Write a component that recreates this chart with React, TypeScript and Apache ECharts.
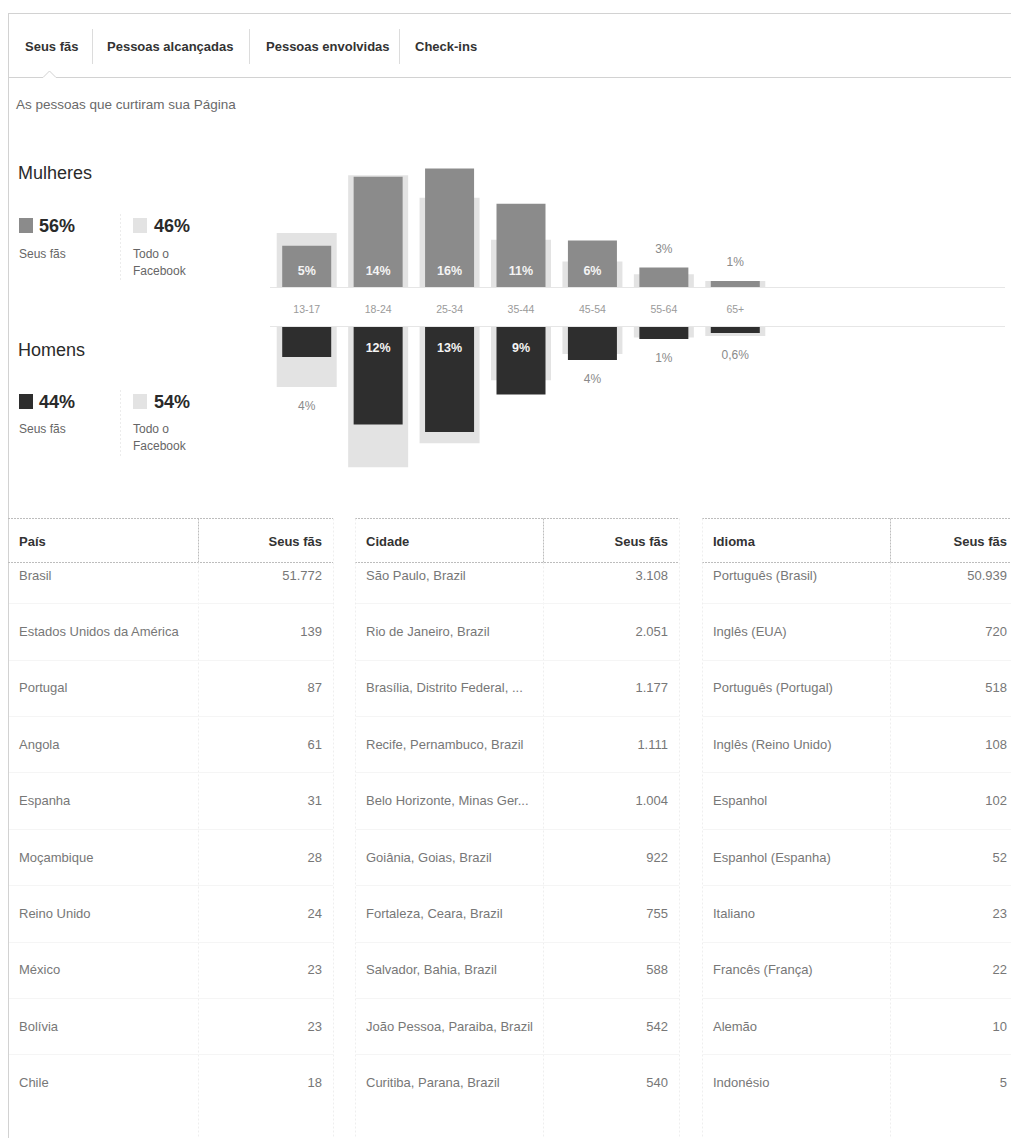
import React, { useEffect, useRef } from 'react';
import * as echarts from 'echarts';

const FONT = '"Liberation Sans", Arial, Helvetica, sans-serif';

// ---------- data ----------
const tabs = ['Seus fãs', 'Pessoas alcançadas', 'Pessoas envolvidas', 'Check-ins'];
const subtitle = 'As pessoas que curtiram sua Página';
const genderTitles = ['Mulheres', 'Homens'];
const genderShareFans = ['56%', '44%'];
const genderShareFacebook = ['46%', '54%'];
const legendFansLabel = 'Seus fãs';
const legendFacebookLabel = ['Todo o', 'Facebook'];

const ageGroups = ['13-17', '18-24', '25-34', '35-44', '45-54', '55-64', '65+'];
const womenFans = [5.5, 14.7, 15.8, 11.1, 6.2, 2.6, 0.8];
const womenAllFacebook = [7.2, 14.9, 11.9, 6.3, 3.4, 1.7, 0.8];
const womenLabels = ['5%', '14%', '16%', '11%', '6%', '3%', '1%'];
const menFans = [4.0, 13.0, 14.0, 9.0, 4.4, 1.6, 0.8];
const menAllFacebook = [8.0, 18.7, 15.5, 7.1, 3.6, 1.4, 1.2];
const menLabels = ['4%', '12%', '13%', '9%', '4%', '1%', '0,6%'];

const tableHeaders = ['País', 'Cidade', 'Idioma'];
const valueHeader = 'Seus fãs';
const countryNames = ['Brasil', 'Estados Unidos da América', 'Portugal', 'Angola', 'Espanha', 'Moçambique', 'Reino Unido', 'México', 'Bolívia', 'Chile'];
const countryFans = [51772, 139, 87, 61, 31, 28, 24, 23, 23, 18];
const cityNames = ['São Paulo, Brazil', 'Rio de Janeiro, Brazil', 'Brasília, Distrito Federal, ...', 'Recife, Pernambuco, Brazil', 'Belo Horizonte, Minas Ger...', 'Goiânia, Goias, Brazil', 'Fortaleza, Ceara, Brazil', 'Salvador, Bahia, Brazil', 'João Pessoa, Paraiba, Brazil', 'Curitiba, Parana, Brazil'];
const cityFans = [3108, 2051, 1177, 1111, 1004, 922, 755, 588, 542, 540];
const languageNames = ['Português (Brasil)', 'Inglês (EUA)', 'Português (Portugal)', 'Inglês (Reino Unido)', 'Espanhol', 'Espanhol (Espanha)', 'Italiano', 'Francês (França)', 'Alemão', 'Indonésio'];
const languageFans = [50939, 720, 518, 108, 102, 52, 23, 22, 10, 5];

// ---------- style ----------
const C_WOMEN = '#8b8b8b';
const C_MEN = '#2e2e2e';
const C_ALL = '#e3e3e3';
const C_LINE = '#d2d2d2';

function fmt(n: number): string {
  return String(n).replace(/\B(?=(\d{3})+(?!\d))/g, '.');
}

function txt(x: number, y: number, text: string, o: any = {}) {
  return {
    type: 'text',
    x,
    y,
    silent: true,
    style: {
      text,
      fill: o.color || '#333',
      fontSize: o.size || 13,
      fontWeight: o.weight || 'normal',
      fontFamily: FONT,
      align: o.align || 'left',
      textAlign: o.align || 'left',
      verticalAlign: 'middle',
      textVerticalAlign: 'middle',
    },
  };
}

function ln(x1: number, y1: number, x2: number, y2: number, stroke: string, dash?: number[]) {
  return {
    type: 'line',
    silent: true,
    shape: { x1, y1, x2, y2 },
    style: { stroke, lineWidth: 1, lineDash: dash || null },
  };
}

function barSeries(fans: number[], all: number[], labels: string[], gridIdx: number, color: string) {
  const inverse = gridIdx === 1;
  const inPos = inverse ? 'insideTop' : 'insideBottom';
  const outPos = inverse ? 'bottom' : 'top';
  const outLabel = (i: number) => ({
    show: true,
    position: outPos,
    distance: 13,
    formatter: labels[i],
    color: '#8a8a8a',
    fontSize: 12,
    fontFamily: FONT,
  });
  const bgData = all.map((v, i) => ({
    value: v,
    label: fans[i] < 5 && v > fans[i] ? outLabel(i) : { show: false },
  }));
  const fanData = fans.map((v, i) => {
    if (v >= 5) {
      return {
        value: v,
        label: {
          show: true,
          position: inPos,
          distance: inverse ? 14 : 10,
          formatter: labels[i],
          color: '#f4f4f4',
          fontSize: 12.5,
          fontWeight: 'bold',
          fontFamily: FONT,
        },
      };
    }
    return { value: v, label: v >= all[i] ? outLabel(i) : { show: false } };
  });
  return [
    {
      type: 'bar',
      xAxisIndex: gridIdx * 2 + 1,
      yAxisIndex: gridIdx,
      data: bgData,
      barWidth: 60,
      itemStyle: { color: C_ALL },
      silent: true,
      z: 2,
    },
    {
      type: 'bar',
      xAxisIndex: gridIdx * 2,
      yAxisIndex: gridIdx,
      data: fanData,
      barWidth: 49,
      itemStyle: { color },
      silent: true,
      z: 3,
    },
  ];
}

function buildGraphics() {
  const g: any[] = [];
  // outer panel borders
  g.push(ln(8, 13.5, 1011, 13.5, C_LINE));
  g.push(ln(8.5, 13, 8.5, 1138, C_LINE));
  // tab bar bottom with selected caret
  g.push(ln(8, 77.5, 43, 77.5, C_LINE));
  g.push({ type: 'polyline', silent: true, shape: { points: [[43, 77.5], [49.5, 71], [56, 77.5]] }, style: { stroke: C_LINE, lineWidth: 1, fill: null } });
  g.push(ln(56, 77.5, 1011, 77.5, C_LINE));
  // tabs
  const tabX = [25, 107, 266, 415];
  tabs.forEach((t, i) => g.push(txt(tabX[i], 46, t, { size: 13, weight: 'bold', color: '#333' })));
  [92.5, 249.5, 399.5].forEach((x) => g.push(ln(x, 29, x, 64, '#dcdcdc')));
  // subtitle
  g.push(txt(16, 104, subtitle, { size: 13.5, color: '#6a6a6a' }));

  // gender legends
  const blocks = [
    { titleY: 173, rowY: 226, subY: 254, color: C_WOMEN },
    { titleY: 350, rowY: 402, subY: 429, color: C_MEN },
  ];
  blocks.forEach((b, k) => {
    g.push(txt(18, b.titleY, genderTitles[k], { size: 18, color: '#2a2a2a' }));
    g.push({ type: 'rect', silent: true, shape: { x: 19, y: b.rowY - 8, width: 14, height: 15 }, style: { fill: b.color } });
    g.push(txt(39, b.rowY, genderShareFans[k], { size: 18, weight: 'bold', color: '#2a2a2a' }));
    g.push(txt(19, b.subY, legendFansLabel, { size: 12, color: '#666' }));
    g.push(ln(120.5, b.rowY - 12, 120.5, b.subY + 28, '#ececec', [2, 2]));
    g.push({ type: 'rect', silent: true, shape: { x: 133, y: b.rowY - 8, width: 14, height: 15 }, style: { fill: C_ALL } });
    g.push(txt(154, b.rowY, genderShareFacebook[k], { size: 18, weight: 'bold', color: '#2a2a2a' }));
    g.push(txt(133, b.subY, legendFacebookLabel[0], { size: 12, color: '#666' }));
    g.push(txt(133, b.subY + 17, legendFacebookLabel[1], { size: 12, color: '#666' }));
  });

  // baseline lines of the age chart
  g.push(ln(270, 287.5, 1005, 287.5, '#e6e6e6'));
  g.push(ln(270, 326.5, 1005, 326.5, '#e6e6e6'));

  // tables
  const lefts = [8, 355, 702];
  const dividers = [198, 543, 890];
  const rights = [333, 679, 1026];
  const textRights = [322, 668, 1007];
  const names = [countryNames, cityNames, languageNames];
  const values = [countryFans, cityFans, languageFans];
  const headTop = 518.5;
  const headBottom = 562.5;
  const headY = 541;
  const row0 = 575;
  const rowH = 56.4;
  for (let t = 0; t < 3; t++) {
    const L = lefts[t];
    const D = dividers[t] + 0.5;
    const R = rights[t] + 0.5;
    g.push(ln(L, headTop, rights[t], headTop, '#bdbdbd', [2, 1]));
    g.push(ln(L, headBottom, rights[t], headBottom, '#bdbdbd', [2, 1]));
    g.push(ln(D, headTop, D, headBottom, '#bdbdbd', [2, 1]));
    g.push(ln(D, headBottom, D, 1138, '#eeeeee', [2, 2]));
    if (t > 0) g.push(ln(L + 0.5, headTop, L + 0.5, 1138, '#eeeeee', [2, 2]));
    g.push(ln(R, headTop, R, 1138, '#eeeeee', [2, 2]));
    g.push(txt(L + 11, headY, tableHeaders[t], { size: 13, weight: 'bold', color: '#333' }));
    g.push(txt(textRights[t], headY, valueHeader, { size: 13, weight: 'bold', color: '#333', align: 'right' }));
    for (let i = 0; i < names[t].length; i++) {
      const y = row0 + i * rowH;
      g.push(txt(L + 11, y, names[t][i], { size: 13, color: '#777' }));
      g.push(txt(textRights[t], y, fmt(values[t][i]), { size: 13, color: '#777', align: 'right' }));
      if (i < names[t].length - 1) {
        g.push(ln(L + 1, Math.round(y + rowH / 2) + 0.5, rights[t], Math.round(y + rowH / 2) + 0.5, '#f5f5f5'));
      }
    }
  }
  return g;
}

export default function App() {
  const ref = useRef<HTMLDivElement>(null);
  useEffect(() => {
    if (!ref.current) return;
    const chart = echarts.init(ref.current, null, { renderer: 'svg' });
    const hiddenX = (gridIndex: number) => ({ gridIndex, type: 'category', data: ageGroups, show: false });
    chart.setOption({
      animation: false,
      backgroundColor: '#ffffff',
      grid: [
        { left: 271, top: 137, width: 500, height: 150 },
        { left: 271, top: 327, width: 500, height: 150 },
      ],
      xAxis: [
        {
          gridIndex: 0,
          type: 'category',
          data: ageGroups,
          axisLine: { show: false },
          axisTick: { show: false },
          axisLabel: { color: '#9a9a9a', fontSize: 10.5, margin: 16, fontFamily: FONT },
        },
        hiddenX(0),
        hiddenX(1),
        hiddenX(1),
      ],
      yAxis: [
        { gridIndex: 0, type: 'value', min: 0, max: 20, show: false },
        { gridIndex: 1, type: 'value', min: 0, max: 20, inverse: true, show: false },
      ],
      series: [
        ...barSeries(womenFans, womenAllFacebook, womenLabels, 0, C_WOMEN),
        ...barSeries(menFans, menAllFacebook, menLabels, 1, C_MEN),
      ],
      graphic: { elements: buildGraphics() },
    });
    return () => chart.dispose();
  }, []);
  return (
    <div
      ref={ref}
      style={{ position: 'absolute', left: 0, top: 0, width: 1011, height: 1138, background: '#fff' }}
    />
  );
}
